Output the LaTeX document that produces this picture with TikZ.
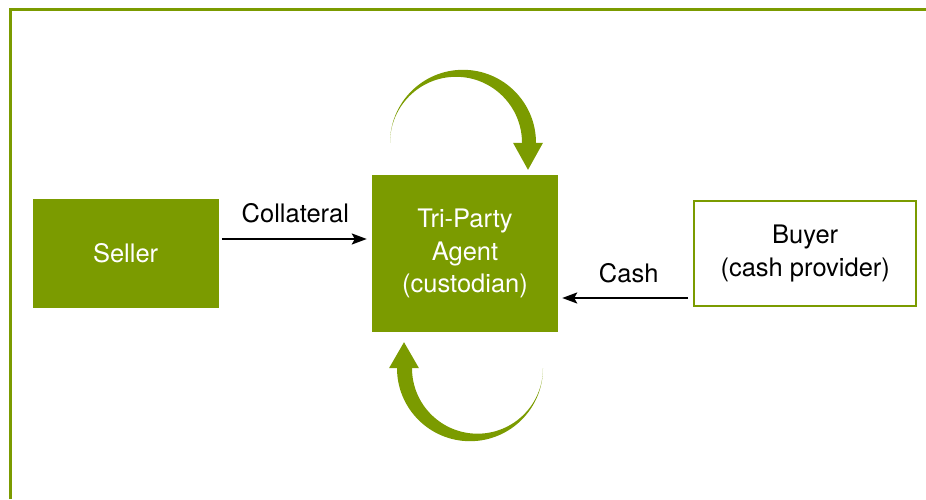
\documentclass[tikz,border=0pt]{standalone}
\usepackage{fontspec}
\setmainfont{TeX Gyre Heros}
\usepackage{xcolor}
\usepackage{tikz}
\usetikzlibrary{
  positioning,
  calc,
  arrows.meta
}
\definecolor{leaf}{RGB}{123,155,0}

\begin{document}
\begin{tikzpicture}[x=1pt,y=1pt,
  box/.style={minimum width=186pt,align=center,inner sep=0pt,
    font=\fontsize{25.5}{32.5}\selectfont},
  flow/.style={line width=2.2pt,-{Stealth[length=15pt,width=11pt,inset=3pt]}},
  tag/.style={font=\fontsize{25.5}{32.5}\selectfont}]
  \useasboundingbox (0,0) rectangle (926,499);

  % 枠線
  \draw[leaf,line width=3pt] (10,0) -- (10,489) -- (926,489);

  % 三者のノード
  \node[box,fill=leaf,text=white,minimum height=157pt] (agent) at (465,245.5)
    {Tri-Party\\Agent\\(custodian)};
  \node[box,fill=leaf,text=white,minimum height=109pt,left=153pt of agent] (seller) {Seller};
  \node[box,draw=leaf,line width=2pt,minimum width=222pt,minimum height=105pt,
    right=135pt of agent] (buyer) {Buyer\\(cash provider)};

  % 担保と現金の流れ
  \draw[flow,shorten <=3pt,shorten >=5pt] ([yshift=14.5pt]seller.east)
    -- node[tag,above=12pt] {Collateral} ([yshift=14.5pt]seller.east -| agent.west);
  \draw[flow,shorten <=5pt,shorten >=4pt] ([yshift=-44.5pt]buyer.west)
    -- node[tag,above=11pt,xshift=3pt] {Cash} ([yshift=-44.5pt]buyer.west -| agent.east);

  % 上下の回転矢印
  \coordinate (topc) at ([shift={(-2,32)}]agent.north);
  \coordinate (botc) at ([shift={(5,-36)}]agent.south);
  \fill[leaf] ([xshift=-73pt]topc) arc[start angle=180,end angle=0,radius=73]
    -- ++(-14,0) arc[start angle=0,end angle=180,radius=66] -- cycle;
  \fill[leaf] ([xshift=50pt]topc) -- ([xshift=80pt]topc) -- ([shift={(65,-27)}]topc) -- cycle;
  \fill[leaf] ([xshift=73pt]botc) arc[start angle=0,end angle=-180,radius=73]
    -- ++(15,0) arc[start angle=180,end angle=360,radius=65.5] -- cycle;
  \fill[leaf] ([xshift=-81pt]botc) -- ([xshift=-51pt]botc) -- ([shift={(-66,26)}]botc) -- cycle;
\end{tikzpicture}
\end{document}
